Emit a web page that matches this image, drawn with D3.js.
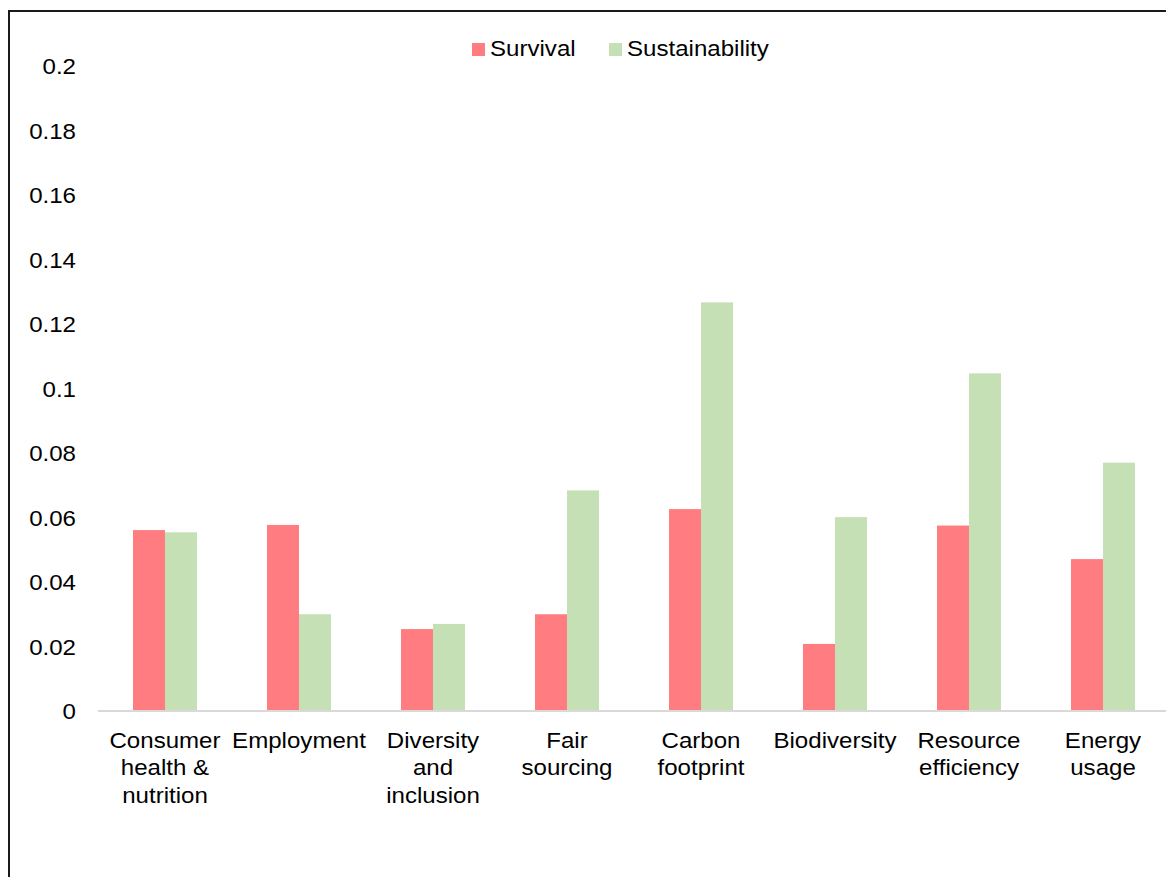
<!DOCTYPE html>
<html>
<head>
<meta charset="utf-8">
<script src="https://cdn.jsdelivr.net/npm/d3@7"></script>
<style>
  html, body { margin: 0; padding: 0; background: #fff; }
  svg { display: block; font-family: "Liberation Sans", Arial, sans-serif; }
</style>
</head>
<body>
<svg id="chart" width="1166" height="877"></svg>
<script>
// Category labels (split into display lines)
const categories = [
  ["Consumer", "health &", "nutrition"],
  ["Employment"],
  ["Diversity", "and", "inclusion"],
  ["Fair", "sourcing"],
  ["Carbon", "footprint"],
  ["Biodiversity"],
  ["Resource", "efficiency"],
  ["Energy", "usage"]
];
const seriesNames = ["Survival", "Sustainability"];
const survival       = [0.0561, 0.0577, 0.0254, 0.0300, 0.0626, 0.0208, 0.0575, 0.0471];
const sustainability = [0.0554, 0.0300, 0.0270, 0.0684, 0.1267, 0.0601, 0.1047, 0.0770];
const yTicks = [0, 0.02, 0.04, 0.06, 0.08, 0.1, 0.12, 0.14, 0.16, 0.18, 0.2];
const colors = ["#FF7C80", "#C5E0B4"];

const svg = d3.select("#chart");
const W = 1166, H = 877;
const FS = 22.5;      // text size
const SX = 1.07;      // slight horizontal widening of text

// Places a text element at (px, py) with the horizontal widening applied
function place(sel, px, py) {
  return sel.attr("transform", `translate(${px},${py}) scale(${SX},1)`);
}

// Outer frame (left and top edges visible)
svg.append("rect")
  .attr("x", 9).attr("y", 11)
  .attr("width", W + 20).attr("height", H + 20)
  .attr("fill", "none").attr("stroke", "#1a1a1a").attr("stroke-width", 2);

const plot = { left: 98, right: 1170, top: 66, bottom: 711 };

const keys = categories.map((c, i) => i);
const x = d3.scaleBand().domain(keys).range([plot.left, plot.right]).paddingInner(0).paddingOuter(0);
const x1 = d3.scaleBand().domain(seriesNames).range([0, 64]);
const y = d3.scaleLinear().domain([0, 0.2]).range([plot.bottom, plot.top]);

// Y tick labels
svg.append("g").selectAll("text").data(yTicks).join("text")
  .each(function (d) { place(d3.select(this), 76, y(d)); })
  .attr("dy", "0.36em")
  .attr("text-anchor", "end")
  .attr("font-size", FS)
  .attr("fill", "#000")
  .text(d => d === 0 ? "0" : String(+d.toFixed(2)));

// Bars
const rows = keys.map(i => ({ i, vals: [survival[i], sustainability[i]] }));
const groups = svg.append("g").selectAll("g").data(rows).join("g")
  .attr("transform", d => `translate(${x(d.i) + (x.bandwidth() - 64) / 2},0)`);
groups.selectAll("rect").data(d => d.vals.map((v, k) => ({ v, k })))
  .join("rect")
  .attr("x", d => x1(seriesNames[d.k]))
  .attr("width", x1.bandwidth())
  .attr("y", d => y(d.v))
  .attr("height", d => y(0) - y(d.v))
  .attr("fill", d => colors[d.k]);

// Baseline
svg.append("line")
  .attr("x1", plot.left).attr("x2", W)
  .attr("y1", y(0)).attr("y2", y(0))
  .attr("stroke", "#D9D9D9").attr("stroke-width", 2);

// Category labels
const lab = svg.append("g").selectAll("text").data(rows).join("text")
  .each(function (d) { place(d3.select(this), x(d.i) + x.bandwidth() / 2, 748); })
  .attr("text-anchor", "middle")
  .attr("font-size", FS)
  .attr("fill", "#000");
lab.selectAll("tspan").data(d => categories[d.i])
  .join("tspan")
  .attr("x", 0)
  .attr("y", (d, j) => j * 27.5)
  .text(d => d);

// Legend
const legend = svg.append("g");
const legendPos = [472, 609];
seriesNames.forEach((name, k) => {
  legend.append("rect")
    .attr("x", legendPos[k]).attr("y", 43)
    .attr("width", 13).attr("height", 13)
    .attr("fill", colors[k]);
  place(legend.append("text"), legendPos[k] + 18, 56)
    .attr("font-size", FS).attr("fill", "#000")
    .text(name);
});
</script>
</body>
</html>
